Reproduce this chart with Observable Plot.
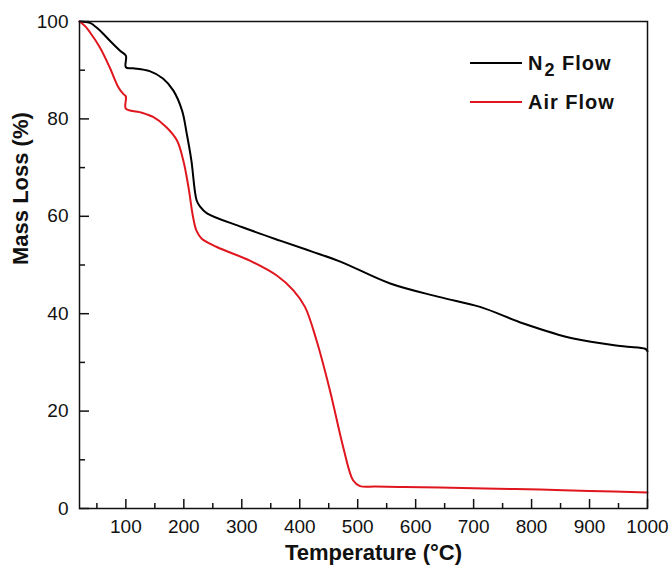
<!DOCTYPE html>
<html>
<head>
<meta charset="utf-8">
<script src="https://cdn.jsdelivr.net/npm/d3@7"></script>
<script src="https://cdn.jsdelivr.net/npm/@observablehq/plot@0.6"></script>
<style>
  html, body { margin: 0; padding: 0; background: #fff; }
  #wrap { position: relative; width: 672px; height: 573px; font-family: "Liberation Sans", Arial, sans-serif; }
  .leg { position: absolute; left: 470px; height: 26px; display: flex; align-items: center; font-weight: bold; font-size: 20px; letter-spacing: 1px; color: #111; }
  .leg .sw { display: inline-block; width: 52px; height: 2px; margin-right: 6px; }
</style>
</head>
<body>
<div id="wrap"></div>
<script>
// N2 flow series
const tempN2 = [20, 30, 40, 49, 60, 72, 90, 100, 100, 112, 141, 164, 182, 197, 205, 213, 222, 228, 240, 300, 366, 420, 470, 556, 642, 711, 786, 872, 958, 996, 1000];
const massN2 = [100, 99.9, 99.6, 98.8, 97.6, 96.1, 94.0, 93.0, 90.6, 90.4, 89.8, 88.3, 85.8, 81.7, 77.0, 71.5, 63.3, 62.0, 60.6, 57.8, 55.0, 52.8, 50.7, 46.2, 43.4, 41.4, 38.0, 34.9, 33.3, 32.8, 32.3];
// Air flow series
const tempAir = [20, 30, 38, 55, 72, 87, 95, 100, 100, 124, 147, 170, 188, 199, 208, 216, 222, 231, 257, 314, 361, 389, 409, 429, 452, 475, 492, 504, 530, 580, 642, 720, 815, 900, 1000];
const massAir = [100, 99.0, 97.8, 94.7, 90.6, 86.5, 85.2, 84.6, 82.1, 81.4, 80.4, 78.3, 75.6, 71.5, 66.0, 59.8, 57.0, 55.4, 53.7, 50.9, 47.8, 44.8, 41.4, 34.5, 24.3, 12.6, 5.8, 4.6, 4.5, 4.4, 4.3, 4.1, 3.9, 3.6, 3.3];

const seriesNames = ["N2 Flow", "Air Flow"];
const seriesColors = ["#000000", "#e0161e"];

const xMajor = [100, 200, 300, 400, 500, 600, 700, 800, 900, 1000];
const xMinor = [50, 150, 250, 350, 450, 550, 650, 750, 850, 950];
const yMajor = [0, 20, 40, 60, 80, 100];
const yMinor = [10, 30, 50, 70, 90];

const xTitle = "Temperature (°C)";
const yTitle = "Mass Loss (%)";

const W = 672, H = 573;
const mL = 79, mR = 25, mT = 21, mB = 65;
const innerW = W - mL - mR, innerH = H - mT - mB;

const n2 = tempN2.map((t, i) => ({t, m: massN2[i]}));
const air = tempAir.map((t, i) => ({t, m: massAir[i]}));

const chart = Plot.plot({
  width: W, height: H,
  marginLeft: mL, marginRight: mR, marginTop: mT, marginBottom: mB,
  style: {fontFamily: '"Liberation Sans", Arial, sans-serif', background: "#fff", color: "#111"},
  x: {domain: [20, 1000]},
  y: {domain: [0, 100]},
  marks: [
    Plot.axisX(xMajor, {tickSize: 0, tickPadding: 11, fontSize: 19, tickFormat: d => String(d), label: null}),
    Plot.axisY(yMajor, {tickSize: 0, tickPadding: 11, fontSize: 19, tickFormat: d => String(d), label: null}),
    Plot.tickX(xMajor, {x: d => d, insetTop: innerH - 9, stroke: "#111", strokeWidth: 1.5}),
    Plot.tickX(xMinor, {x: d => d, insetTop: innerH - 5, stroke: "#111", strokeWidth: 1.5}),
    Plot.tickY(yMajor, {y: d => d, insetRight: innerW - 10, stroke: "#111", strokeWidth: 1.5}),
    Plot.tickY(yMinor, {y: d => d, insetRight: innerW - 6, stroke: "#111", strokeWidth: 1.5}),
    Plot.line(n2, {x: "t", y: "m", stroke: seriesColors[0], strokeWidth: 2, curve: "catmull-rom"}),
    Plot.line(air, {x: "t", y: "m", stroke: seriesColors[1], strokeWidth: 2, curve: "catmull-rom"}),
    Plot.frame({stroke: "#111", strokeWidth: 1.5}),
    Plot.text([xTitle], {frameAnchor: "bottom", dx: 10, dy: 51, fontSize: 22, fontWeight: "bold", fill: "#111"}),
    Plot.text([yTitle], {frameAnchor: "left", dx: -59, rotate: -90, fontSize: 22, fontWeight: "bold", fill: "#111"})
  ]
});

const wrap = document.getElementById("wrap");
wrap.appendChild(chart);

// legend
const legTops = [50, 89];
seriesNames.forEach((name, i) => {
  const row = document.createElement("div");
  row.className = "leg";
  row.style.top = legTops[i] + "px";
  const sw = document.createElement("span");
  sw.className = "sw";
  sw.style.background = seriesColors[i];
  row.appendChild(sw);
  const lab = document.createElement("span");
  if (name.startsWith("N2")) {
    lab.innerHTML = 'N<span style="font-size:18px;position:relative;top:6px;margin-left:1px">2</span> Flow';
  } else {
    lab.textContent = name;
  }
  row.appendChild(lab);
  wrap.appendChild(row);
});
</script>
</body>
</html>
